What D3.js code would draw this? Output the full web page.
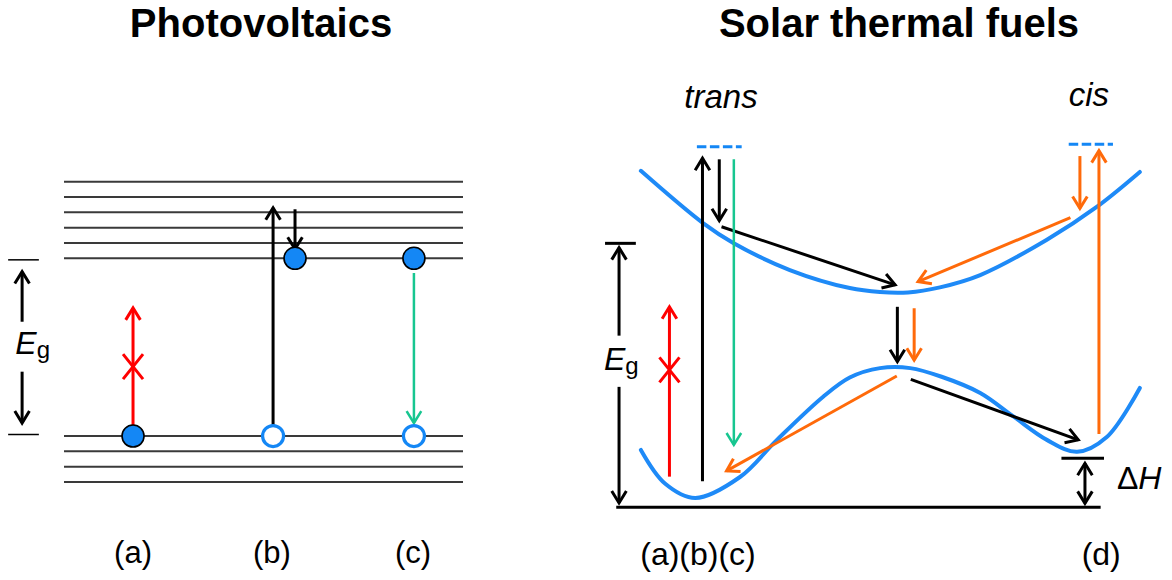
<!DOCTYPE html>
<html>
<head>
<meta charset="utf-8">
<script src="https://cdn.jsdelivr.net/npm/d3@7"></script>
<style>
  body { margin: 0; background: #fff; }
  svg { font-family: "Liberation Sans", Arial, sans-serif; }
</style>
</head>
<body>
<div id="chart"></div>
<script>
// ---- data ----
const titles = ['Photovoltaics', 'Solar thermal fuels'];

// photovoltaics: energy levels (level-spacing units, valence top = 0)
const valenceLevels = [0, -1, -2, -3];
const conductionLevels = [11.6, 12.6, 13.6, 14.6, 15.6, 16.6];
const pvLabels = ['(a)', '(b)', '(c)'];
const pvLabelX = [17.3, 52.1, 87.5];
// electrons (filled) and holes (open)
const pvDots = [
  { x: 17.3, e: 0, filled: true },
  { x: 52.4, e: 0, filled: false },
  { x: 57.9, e: 11.6, filled: true },
  { x: 87.7, e: 11.6, filled: true },
  { x: 87.7, e: 0, filled: false }
];
const pvArrows = [
  { x1: 17.3, e1: 0, x2: 17.3, e2: 8.36, color: 'red', cross: 4.53 },
  { x1: 52.4, e1: 0.72, x2: 52.4, e2: 14.9, color: 'black' },
  { x1: 57.9, e1: 14.8, x2: 57.9, e2: 12.2, color: 'black' },
  { x1: 87.7, e1: 10.64, x2: 87.7, e2: 0.85, color: 'green' }
];
const pvGap = { x: -10.5, top: 11.5, bottom: 0.1, upFrom: 7.46, upTo: 10.73, downFrom: 4.2, downTo: 0.85 };

// solar thermal fuels: reaction coordinate (0-100) vs energy (0-100)
const excitedCurve = [[7.3, 93.3], [18.4, 78.8], [23.8, 73.3], [33.9, 65.8], [44.6, 60.8], [50, 59.7],
  [55, 59.6], [60.7, 61.0], [67.9, 64.4], [79.8, 74.2], [88.7, 83.3], [96.4, 93.0]];
const groundCurve = [[7.3, 15.9], [11.6, 6.6], [17.0, 2.6], [25.0, 8.4], [31.6, 18.7], [39.8, 30.6],
  [44.6, 36.0], [50, 38.6], [55.4, 38.6], [61, 36.2], [67.9, 31.7], [73.8, 25.2], [79.8, 18.7],
  [85.2, 15.4], [90.5, 19.5], [96.4, 33.1]];
const stfArrows = [
  { u1: 12.4, e1: 8.5, u2: 12.4, e2: 55.6, color: 'red', cross: 38.1 },
  { u1: 18.3, e1: 7.2, u2: 18.3, e2: 96.8, color: 'black' },
  { u1: 21.3, e1: 96.5, u2: 21.3, e2: 79.5, color: 'black' },
  { u1: 21.7, e1: 77.8, u2: 52.7, e2: 61.7, color: 'black' },
  { u1: 53.1, e1: 55.6, u2: 53.1, e2: 40.4, color: 'black' },
  { u1: 55.5, e1: 35.5, u2: 85.4, e2: 18.7, color: 'black' },
  { u1: 23.9, e1: 96.5, u2: 23.9, e2: 17.3, color: 'green' },
  { u1: 56.1, e1: 55.2, u2: 56.1, e2: 40.8, color: 'orange' },
  { u1: 85.7, e1: 97.4, u2: 85.7, e2: 82.9, color: 'orange' },
  { u1: 89.1, e1: 20.3, u2: 89.1, e2: 98.9, color: 'orange' },
  { u1: 84.0, e1: 80.3, u2: 56.8, e2: 62.6, color: 'orange' },
  { u1: 53.0, e1: 36.4, u2: 22.6, e2: 10.1, color: 'orange' }
];
const dashedLevels = [{ u1: 17.3, u2: 25.3, e: 100 }, { u1: 83.7, u2: 91.6, e: 100.7 }];
const isomers = [{ name: 'trans', u: 21.6, e: 110.7 }, { name: 'cis', u: 87.3, e: 111.3 }];
const stfLabels = [{ text: '(a)(b)(c)', u: 17.5 }, { text: '(d)', u: 89.5 }];
const stfGap = { u: 3.4, top: 73.2, upFrom: 47.6, upTo: 72, downFrom: 33.4, downTo: 1.2 };
const deltaH = { u: 86.6, top: 13.6, from: 12.2, to: 1.1 };

const colors = { red: '#ff0000', black: '#000000', green: '#17c690', orange: '#ff6a0a', blue: '#1487f5', curve: '#1e8af7' };

// ---- drawing ----
const W = 1172, H = 580;
const svg = d3.select('#chart').append('svg').attr('width', W).attr('height', H);
svg.append('rect').attr('width', W).attr('height', H).attr('fill', '#fff');

// open chevron arrow
function arrow(g, x1, y1, x2, y2, color, width, both) {
  g.append('line').attr('x1', x1).attr('y1', y1).attr('x2', x2).attr('y2', y2)
    .attr('stroke', color).attr('stroke-width', width);
  const head = (tx, ty, fx, fy) => {
    const a = Math.atan2(ty - fy, tx - fx), L = 14, s = 0.55;
    const p1 = [tx - L * Math.cos(a - s), ty - L * Math.sin(a - s)];
    const p2 = [tx - L * Math.cos(a + s), ty - L * Math.sin(a + s)];
    g.append('path').attr('d', `M${p1}L${tx},${ty}L${p2}`)
      .attr('fill', 'none').attr('stroke', color).attr('stroke-width', width)
      .attr('stroke-linecap', 'butt').attr('stroke-linejoin', 'miter');
  };
  head(x2, y2, x1, y1);
  if (both) head(x1, y1, x2, y2);
}
function cross(g, cx, cy, color) {
  g.append('path').attr('d', `M${cx - 10},${cy - 12.5}L${cx + 10},${cy + 12.5}M${cx + 10},${cy - 12.5}L${cx - 10},${cy + 12.5}`)
    .attr('stroke', color).attr('stroke-width', 3).attr('fill', 'none');
}

// titles
svg.append('text').attr('x', 261).attr('y', 37).attr('text-anchor', 'middle')
  .attr('font-size', 40).attr('font-weight', 'bold').text(titles[0]);
svg.append('text').attr('x', 899).attr('y', 37).attr('text-anchor', 'middle')
  .attr('font-size', 40).attr('font-weight', 'bold').text(titles[1]);

// ---- left panel ----
const xL = d3.scaleLinear().domain([0, 100]).range([64, 463]);
const yL = d3.scaleLinear().domain([-3, 16.6]).range([482, 181.7]);
const gL = svg.append('g');

gL.selectAll('line.level').data(valenceLevels.concat(conductionLevels)).join('line')
  .attr('class', 'level')
  .attr('x1', xL(0)).attr('x2', xL(100))
  .attr('y1', d => yL(d)).attr('y2', d => yL(d))
  .attr('stroke', '#3a3a3a').attr('stroke-width', 2);

// band gap bracket
[pvGap.top, pvGap.bottom].forEach(e => {
  gL.append('line').attr('x1', xL(-14)).attr('x2', xL(-6.3)).attr('y1', yL(e)).attr('y2', yL(e))
    .attr('stroke', '#000').attr('stroke-width', 1.5);
});
arrow(gL, xL(pvGap.x), yL(pvGap.upFrom), xL(pvGap.x), yL(pvGap.upTo), '#000', 3);
arrow(gL, xL(pvGap.x), yL(pvGap.downFrom), xL(pvGap.x), yL(pvGap.downTo), '#000', 3);
const egL = gL.append('text').attr('x', xL(-12.2)).attr('y', yL(5.36)).attr('font-size', 32);
egL.append('tspan').attr('font-style', 'italic').text('E');
egL.append('tspan').attr('font-size', 24).attr('dy', 4).text('g');

pvArrows.forEach(a => {
  arrow(gL, xL(a.x1), yL(a.e1), xL(a.x2), yL(a.e2), colors[a.color], a.color === 'green' ? 2.5 : 3);
  if (a.cross !== undefined) cross(gL, xL(a.x1), yL(a.cross), colors[a.color]);
});

gL.selectAll('circle').data(pvDots).join('circle')
  .attr('cx', d => xL(d.x)).attr('cy', d => yL(d.e))
  .attr('r', d => d.filled ? 11 : 10.5)
  .attr('fill', d => d.filled ? colors.blue : '#fff')
  .attr('stroke', d => d.filled ? '#000' : colors.blue)
  .attr('stroke-width', d => d.filled ? 1.6 : 3.2);

gL.selectAll('text.lab').data(pvLabels).join('text').attr('class', 'lab')
  .attr('x', (d, i) => xL(pvLabelX[i])).attr('y', 563)
  .attr('text-anchor', 'middle').attr('font-size', 31).text(d => d);

// ---- right panel ----
const xR = d3.scaleLinear().domain([0, 100]).range([600, 1160]);
const yR = d3.scaleLinear().domain([0, 100]).range([507.3, 146.7]);
const gR = svg.append('g');

const line = d3.line().x(d => xR(d[0])).y(d => yR(d[1])).curve(d3.curveCatmullRom);
[excitedCurve, groundCurve].forEach(c => {
  gR.append('path').attr('d', line(c)).attr('fill', 'none')
    .attr('stroke', colors.curve).attr('stroke-width', 4).attr('stroke-linecap', 'round');
});

// baseline
gR.append('line').attr('x1', xR(2.9)).attr('x2', xR(89.4)).attr('y1', yR(0)).attr('y2', yR(0))
  .attr('stroke', '#000').attr('stroke-width', 3);

// dashed excited levels
dashedLevels.forEach(d => {
  gR.append('line').attr('x1', xR(d.u1)).attr('x2', xR(d.u2)).attr('y1', yR(d.e)).attr('y2', yR(d.e))
    .attr('stroke', colors.blue).attr('stroke-width', 3).attr('stroke-dasharray', '9.5,3.5');
});

stfArrows.forEach(a => {
  arrow(gR, xR(a.u1), yR(a.e1), xR(a.u2), yR(a.e2), colors[a.color], a.color === 'green' ? 2.5 : 3);
  if (a.cross !== undefined) cross(gR, xR(a.u1), yR(a.cross), colors[a.color]);
});

// Eg bracket
gR.append('line').attr('x1', xR(0.9)).attr('x2', xR(6.4)).attr('y1', yR(stfGap.top)).attr('y2', yR(stfGap.top))
  .attr('stroke', '#000').attr('stroke-width', 3);
arrow(gR, xR(stfGap.u), yR(stfGap.upFrom), xR(stfGap.u), yR(stfGap.upTo), '#000', 3);
arrow(gR, xR(stfGap.u), yR(stfGap.downFrom), xR(stfGap.u), yR(stfGap.downTo), '#000', 3);
const egR = gR.append('text').attr('x', xR(0.7)).attr('y', yR(38.1)).attr('font-size', 32);
egR.append('tspan').attr('font-style', 'italic').text('E');
egR.append('tspan').attr('font-size', 24).attr('dy', 4).text('g');

// delta H
gR.append('line').attr('x1', xR(82.4)).attr('x2', xR(90)).attr('y1', yR(deltaH.top)).attr('y2', yR(deltaH.top))
  .attr('stroke', '#000').attr('stroke-width', 3);
arrow(gR, xR(deltaH.u), yR(deltaH.from), xR(deltaH.u), yR(deltaH.to), '#000', 3, true);
const dh = gR.append('text').attr('x', xR(92.3)).attr('y', yR(5.0)).attr('font-size', 32);
dh.append('tspan').text('Δ');
dh.append('tspan').attr('font-style', 'italic').text('H');

isomers.forEach(d => {
  gR.append('text').attr('x', xR(d.u)).attr('y', yR(d.e)).attr('text-anchor', 'middle')
    .attr('font-size', 33).attr('font-style', 'italic').text(d.name);
});
stfLabels.forEach(d => {
  gR.append('text').attr('x', xR(d.u)).attr('y', 565).attr('text-anchor', 'middle')
    .attr('font-size', 32).text(d.text);
});
</script>
</body>
</html>
